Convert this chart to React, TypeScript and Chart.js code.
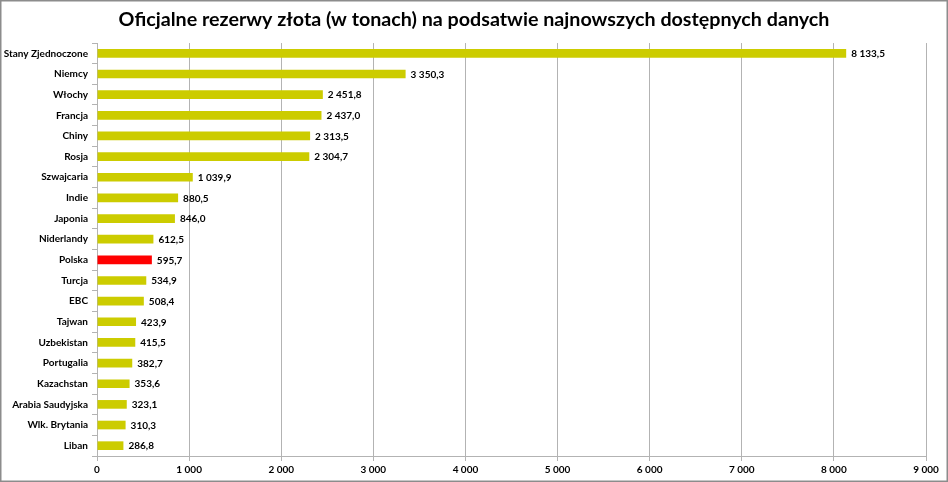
import React, { useEffect, useRef } from "react";
import { Chart, registerables } from "chart.js";

Chart.register(...registerables);

const categories = [
  "Stany Zjednoczone", "Niemcy", "Włochy", "Francja", "Chiny", "Rosja", "Szwajcaria",
  "Indie", "Japonia", "Niderlandy", "Polska", "Turcja", "EBC", "Tajwan", "Uzbekistan",
  "Portugalia", "Kazachstan", "Arabia Saudyjska", "Wlk. Brytania", "Liban",
];
const reserves = [
  8133.5, 3350.3, 2451.8, 2437.0, 2313.5, 2304.7, 1039.9, 880.5, 846.0, 612.5, 595.7,
  534.9, 508.4, 423.9, 415.5, 382.7, 353.6, 323.1, 310.3, 286.8,
];
const highlight = "Polska";
const titleText = "Oficjalne rezerwy złota (w tonach) na podsatwie najnowszych dostępnych danych";

const BAR = "#cccc00";
const RED = "#ff0000";
const FONT = "Lato, 'Open Sans', sans-serif";

function groupThousands(intPart: string) {
  return intPart.replace(/\B(?=(\d{3})+(?!\d))/g, " ");
}
function fmtValue(v: number) {
  const [i, d] = v.toFixed(1).split(".");
  return groupThousands(i) + "," + d;
}
function fmtTick(v: number) {
  return groupThousands(String(Math.round(v)));
}

const frame = {
  id: "frame",
  beforeDraw(chart: any) {
    const { ctx, width, height } = chart;
    ctx.save();
    ctx.fillStyle = "#ffffff";
    ctx.fillRect(0, 0, width, height);
    ctx.restore();
  },
  afterDraw(chart: any) {
    const { ctx, width, height } = chart;
    ctx.save();
    ctx.strokeStyle = "#8c8c8c";
    ctx.lineWidth = 1.5;
    ctx.strokeRect(0.75, 0.75, width - 1.5, height - 1.5);
    ctx.restore();
  },
};

const valueLabels = {
  id: "valueLabels",
  afterDatasetsDraw(chart: any) {
    const { ctx } = chart;
    const meta = chart.getDatasetMeta(0);
    const data = chart.data.datasets[0].data as number[];
    ctx.save();
    ctx.font = "bold 10px " + FONT;
    ctx.fillStyle = "#000000";
    ctx.textAlign = "left";
    ctx.textBaseline = "middle";
    meta.data.forEach((el: any, i: number) => {
      ctx.fillText(fmtValue(data[i]), el.x + 5, el.y + 0.5);
    });
    ctx.restore();
  },
};

export default function App() {
  const ref = useRef<HTMLCanvasElement>(null);
  useEffect(() => {
    document.body.style.margin = "0";
    const chart = new Chart(ref.current!, {
      type: "bar",
      data: {
        labels: categories,
        datasets: [
          {
            data: reserves,
            backgroundColor: categories.map((c) => (c === highlight ? RED : BAR)),
            borderWidth: 0,
            categoryPercentage: 1,
            barPercentage: 0.42,
          },
        ],
      },
      options: {
        indexAxis: "y",
        animation: false,
        responsive: false,
        maintainAspectRatio: false,
        devicePixelRatio: 1,
        layout: { padding: { left: 0, right: 0, top: 0, bottom: 0 } },
        plugins: {
          legend: { display: false },
          tooltip: { enabled: false },
          title: {
            display: true,
            text: titleText,
            color: "#000000",
            font: { family: FONT, size: 19.7, weight: "bold" },
            padding: { top: 8, bottom: 11.4 },
          },
        },
        scales: {
          x: {
            min: 0,
            max: 9000,
            ticks: {
              stepSize: 1000,
              color: "#000000",
              font: { family: FONT, size: 10, weight: "bold" },
              padding: 3,
              callback: (v: any) => fmtTick(Number(v)),
              maxRotation: 0,
            },
            grid: { color: "#b3b3b3", lineWidth: 1, tickLength: 5 },
            border: { color: "#b3b3b3" },
            afterFit: (s: any) => {
              s.height = 26;
              s.paddingRight = 22;
            },
          },
          y: {
            ticks: {
              color: "#000000",
              font: { family: FONT, size: 10, weight: "bold" },
              padding: 4,
              autoSkip: false,
            },
            grid: { drawOnChartArea: false, color: "#b3b3b3", tickLength: 5 },
            border: { color: "#b3b3b3" },
            afterFit: (s: any) => {
              s.width = 97;
            },
          },
        },
      },
      plugins: [frame, valueLabels],
    });
    return () => chart.destroy();
  }, []);
  return (
    <div style={{ position: "absolute", left: 0, top: 0, width: 948, height: 482 }}>
      <canvas ref={ref} width={948} height={482} style={{ width: 948, height: 482, display: "block" }} />
    </div>
  );
}
